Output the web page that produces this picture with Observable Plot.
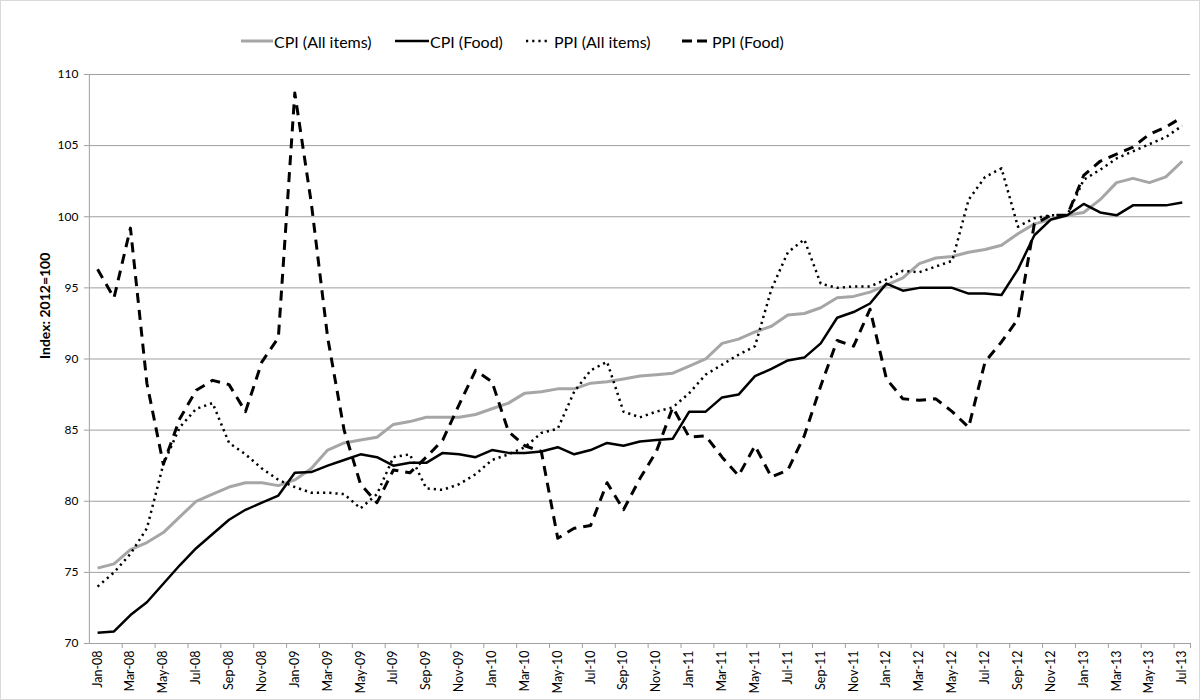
<!DOCTYPE html>
<html>
<head>
<meta charset="utf-8">
<script src="https://cdn.jsdelivr.net/npm/d3@7"></script>
<script src="https://cdn.jsdelivr.net/npm/@observablehq/plot@0.6"></script>
<style>
  html, body { margin: 0; padding: 0; background: #fff; }
  #chart { position: relative; width: 1200px; height: 700px; box-sizing: border-box; border: 1px solid #d9d9d9; font-family: Lato, "Open Sans", sans-serif; overflow: hidden; }
  #plot { position: absolute; left: -1px; top: 59px; }
  .leg { position: absolute; top: 30px; height: 20px; display: flex; align-items: center; font-size: 16px; color: #000; white-space: nowrap; }
  .leg svg { display: block; }
</style>
</head>
<body>
<div id="chart"></div>
<script>
const months = ["Jan-08","Feb-08","Mar-08","Apr-08","May-08","Jun-08","Jul-08","Aug-08","Sep-08","Oct-08","Nov-08","Dec-08",
"Jan-09","Feb-09","Mar-09","Apr-09","May-09","Jun-09","Jul-09","Aug-09","Sep-09","Oct-09","Nov-09","Dec-09",
"Jan-10","Feb-10","Mar-10","Apr-10","May-10","Jun-10","Jul-10","Aug-10","Sep-10","Oct-10","Nov-10","Dec-10",
"Jan-11","Feb-11","Mar-11","Apr-11","May-11","Jun-11","Jul-11","Aug-11","Sep-11","Oct-11","Nov-11","Dec-11",
"Jan-12","Feb-12","Mar-12","Apr-12","May-12","Jun-12","Jul-12","Aug-12","Sep-12","Oct-12","Nov-12","Dec-12",
"Jan-13","Feb-13","Mar-13","Apr-13","May-13","Jun-13","Jul-13"];

const cpiAll = [75.3,75.6,76.6,77.1,77.8,78.9,80.0,80.5,81.0,81.3,81.3,81.1,
81.5,82.3,83.6,84.1,84.3,84.5,85.4,85.6,85.9,85.9,85.9,86.1,
86.5,86.9,87.6,87.7,87.9,87.9,88.3,88.4,88.6,88.8,88.9,89.0,
89.5,90.0,91.1,91.4,91.9,92.3,93.1,93.2,93.6,94.3,94.4,94.7,
95.2,95.7,96.7,97.1,97.2,97.5,97.7,98.0,98.8,99.5,99.8,100.1,
100.3,101.2,102.4,102.7,102.4,102.8,103.9];

const cpiFood = [70.75,70.85,72.0,72.9,74.2,75.5,76.7,77.7,78.7,79.4,79.9,80.4,
82.0,82.05,82.5,82.9,83.3,83.1,82.5,82.7,82.7,83.4,83.3,83.1,
83.6,83.4,83.4,83.5,83.8,83.3,83.6,84.1,83.9,84.2,84.3,84.4,
86.3,86.3,87.3,87.5,88.8,89.3,89.9,90.1,91.1,92.9,93.3,93.9,
95.3,94.8,95.0,95.0,95.0,94.6,94.6,94.5,96.3,98.7,99.8,100.1,
100.9,100.3,100.1,100.8,100.8,100.8,101.0];

const ppiAll = [74.0,75.0,76.3,78.1,82.6,85.2,86.5,86.9,84.1,83.3,82.3,81.5,
81.0,80.6,80.6,80.5,79.5,80.5,83.1,83.3,80.9,80.8,81.2,81.9,
82.9,83.3,83.8,84.8,85.1,87.7,89.2,89.8,86.3,85.9,86.3,86.6,
87.6,88.9,89.6,90.3,90.9,94.9,97.5,98.4,95.3,95.0,95.1,95.1,
95.6,96.2,96.1,96.5,96.9,101.2,102.8,103.4,99.3,99.9,100.1,100.1,
102.6,103.3,104.1,104.6,105.1,105.6,106.4];

const ppiFood = [96.3,94.3,99.2,88.3,82.6,85.8,87.8,88.5,88.2,86.3,89.8,91.5,
108.7,101.0,91.5,85.0,81.2,79.9,82.2,82.0,83.1,84.3,86.8,89.2,
88.4,84.9,83.9,83.5,77.4,78.1,78.3,81.3,79.4,81.6,83.5,86.6,
84.5,84.6,83.1,81.8,83.9,81.7,82.2,84.6,88.1,91.3,90.9,93.5,
88.6,87.2,87.1,87.2,86.3,85.2,89.8,91.2,92.8,99.5,100.1,100.1,
102.9,103.9,104.4,104.9,105.8,106.3,107.0];

const seriesNames = ["CPI (All items)", "CPI (Food)", "PPI (All items)", "PPI (Food)"];
const yTicks = [70, 75, 80, 85, 90, 95, 100, 105, 110];
const yLabel = "Index: 2012=100";

const styles = [
  {stroke: "#a6a6a6", strokeWidth: 3, dash: null},
  {stroke: "#000000", strokeWidth: 2.5, dash: null},
  {stroke: "#000000", strokeWidth: 2.5, dash: "2.2,4"},
  {stroke: "#000000", strokeWidth: 3, dash: "10,7"}
];
const allSeries = [cpiAll, cpiFood, ppiAll, ppiFood];

const idx = months.map((m, i) => i);
const labelIdx = idx.filter(i => i % 2 === 0);
const boundaries = idx.filter(i => i % 2 === 0).map(i => i - 0.5).concat([66.5]).filter(v => v > -0.5);

const lineMarks = allSeries.map((vals, s) =>
  Plot.line(vals.map((v, i) => ({i, v})), {
    x: "i", y: "v",
    stroke: styles[s].stroke,
    strokeWidth: styles[s].strokeWidth,
    strokeDasharray: styles[s].dash,
    strokeLinejoin: "round",
    strokeLinecap: "butt"
  })
);

const plot = Plot.plot({
  width: 1200,
  height: 641,
  marginLeft: 89,
  marginRight: 8,
  marginTop: 14,
  marginBottom: 57,
  style: {fontFamily: "Lato, 'Open Sans', sans-serif", fontSize: "12px", color: "#000", background: "transparent"},
  x: {type: "linear", domain: [-0.5, 66.5]},
  y: {domain: [70, 110]},
  marks: [
    Plot.ruleY(yTicks.filter(t => t > 70), {stroke: "#a0a0a0", strokeWidth: 1}),
    Plot.ruleY([70], {stroke: "#a0a0a0", strokeWidth: 1}),
    Plot.ruleX([-0.5], {stroke: "#a0a0a0", strokeWidth: 1}),
    Plot.axisY({ticks: yTicks, tickSize: 5, tickPadding: 6, stroke: "#a0a0a0", label: null, fontSize: 12}),
    Plot.axisX({ticks: boundaries, tickSize: 5, tickFormat: () => "", stroke: "#a0a0a0", label: null}),
    Plot.axisX({ticks: labelIdx, tickSize: 0, tickPadding: 7, tickRotate: -90, tickFormat: i => months[i], label: null, fontSize: 12.5}),
    Plot.text([yLabel], {frameAnchor: "left", dx: -44, rotate: -90, fontWeight: "bold", fontSize: 14}),
    ...lineMarks
  ]
});
plot.id = "plot";
const chart = document.getElementById("chart");
chart.appendChild(plot);

// Legend
const legendPos = [
  {sample: 240, w: 32, text: 273},
  {sample: 394, w: 34, text: 429},
  {sample: 525, w: 24, text: 553},
  {sample: 681, w: 26, text: 711}
];
seriesNames.forEach((name, s) => {
  const item = document.createElement("div");
  item.className = "leg";
  item.style.left = legendPos[s].sample + "px";
  const st = styles[s];
  const w = legendPos[s].w;
  const gap = legendPos[s].text - legendPos[s].sample - w;
  item.innerHTML = `<svg width="${w}" height="20"><line x1="0" x2="${w}" y1="10" y2="10" stroke="${st.stroke}" stroke-width="${st.strokeWidth}" ${st.dash ? `stroke-dasharray="${s === 3 ? '10,5' : st.dash}"` : ""}/></svg><span style="margin-left:${gap}px">${name}</span>`;
  chart.appendChild(item);
});
</script>
</body>
</html>
